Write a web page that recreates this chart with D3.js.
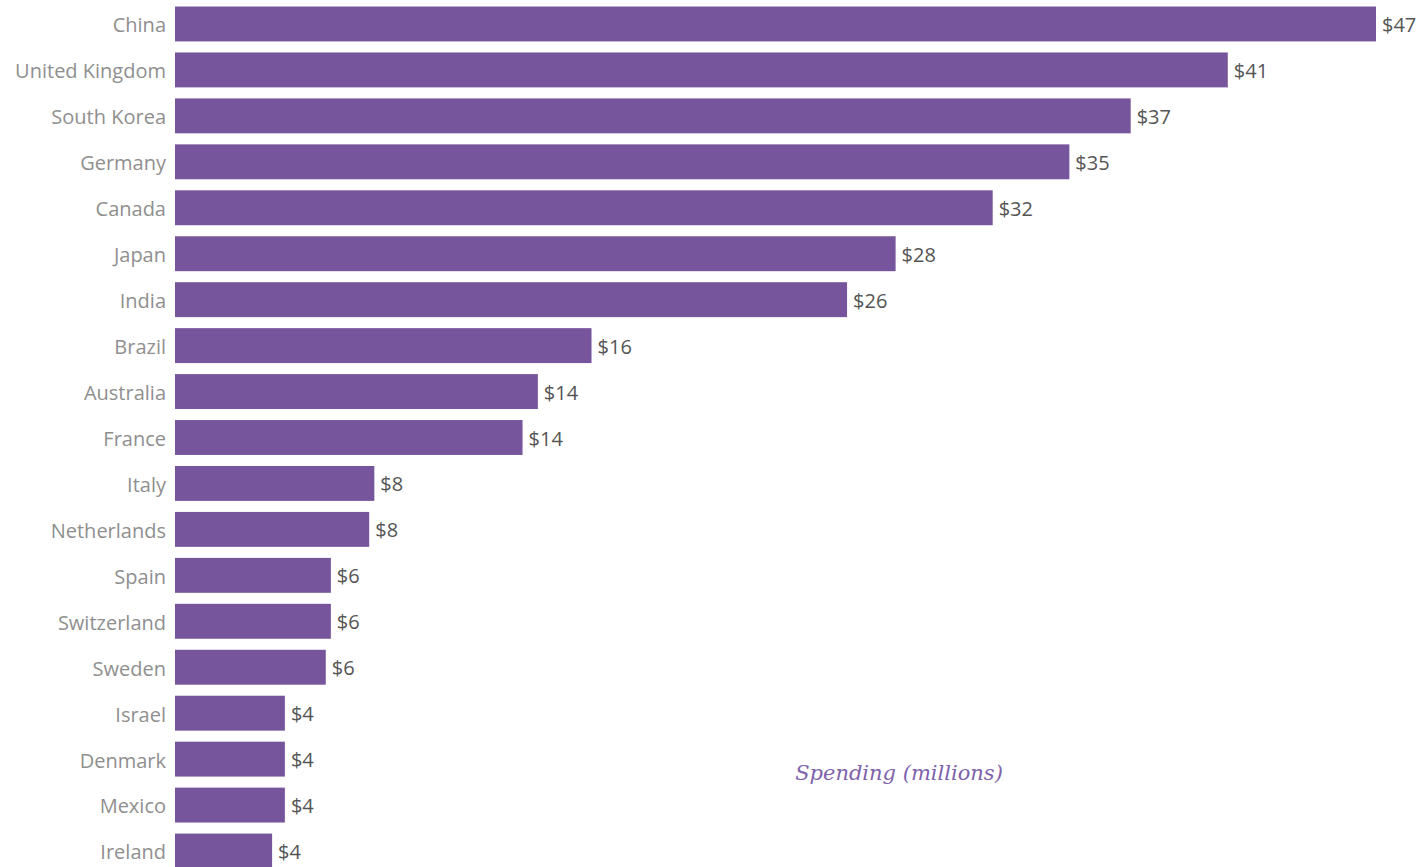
<!DOCTYPE html>
<html>
<head>
<meta charset="utf-8">
<script src="https://cdn.jsdelivr.net/npm/d3@7"></script>
<style>
  body { margin: 0; background: #fff; }
  svg { display: block; }
</style>
</head>
<body>
<div id="chart"></div>
<script>
// spending by country, millions of dollars
var countries = ["China", "United Kingdom", "South Korea", "Germany", "Canada", "Japan", "India",
  "Brazil", "Australia", "France", "Italy", "Netherlands", "Spain", "Switzerland", "Sweden",
  "Israel", "Denmark", "Mexico", "Ireland"];
var spending = [47.0, 41.2, 37.4, 35.0, 32.0, 28.2, 26.3, 16.3, 14.2, 13.6, 7.8, 7.6, 6.1, 6.1, 5.9,
  4.3, 4.3, 4.3, 3.8];
var axisTitle = "Spending (millions)";

var width = 1420, height = 867;

var svg = d3.select('#chart')
  .append('svg')
  .attr('width', width)
  .attr('height', height);

var x = d3.scaleLinear()
  .domain([0, 47])
  .range([175, 1376]);

var y = d3.scaleBand()
  .domain(countries)
  .range([1, 874])
  .paddingInner(0.24)
  .paddingOuter(0.12);

var rows = countries.map(function (c, i) { return { name: c, value: spending[i] }; });

svg.selectAll('rect.bar')
  .data(rows)
  .enter().append('rect')
  .attr('class', 'bar')
  .attr('x', x(0))
  .attr('y', function (d) { return y(d.name); })
  .attr('width', function (d) { return x(d.value) - x(0); })
  .attr('height', y.bandwidth())
  .attr('fill', '#76559c');

// country names on the left
var yAxis = svg.append('g')
  .attr('transform', 'translate(' + (x(0) - 1) + ',0)')
  .call(d3.axisLeft(y).tickSize(0).tickPadding(8));
yAxis.select('.domain').remove();
yAxis.selectAll('text')
  .attr('dy', '0.42em')
  .attr('font-family', 'Open Sans')
  .attr('font-size', '20px')
  .attr('fill', '#8f8f8f');

// value labels
svg.selectAll('text.val')
  .data(rows)
  .enter().append('text')
  .attr('class', 'val')
  .attr('x', function (d) { return x(d.value) + 6; })
  .attr('y', function (d) { return y(d.name) + y.bandwidth() / 2; })
  .attr('dy', '0.4em')
  .attr('font-family', 'Open Sans')
  .attr('font-size', '20px')
  .attr('fill', '#555')
  .text(function (d) { return '$' + d3.format('.0f')(d.value); });

svg.append('text')
  .attr('x', 899)
  .attr('y', 773)
  .attr('dy', '0.35em')
  .attr('text-anchor', 'middle')
  .attr('font-family', 'DejaVu Serif')
  .attr('font-style', 'italic')
  .attr('font-size', '21px')
  .attr('fill', '#7e62ab')
  .text(axisTitle);
</script>
</body>
</html>
